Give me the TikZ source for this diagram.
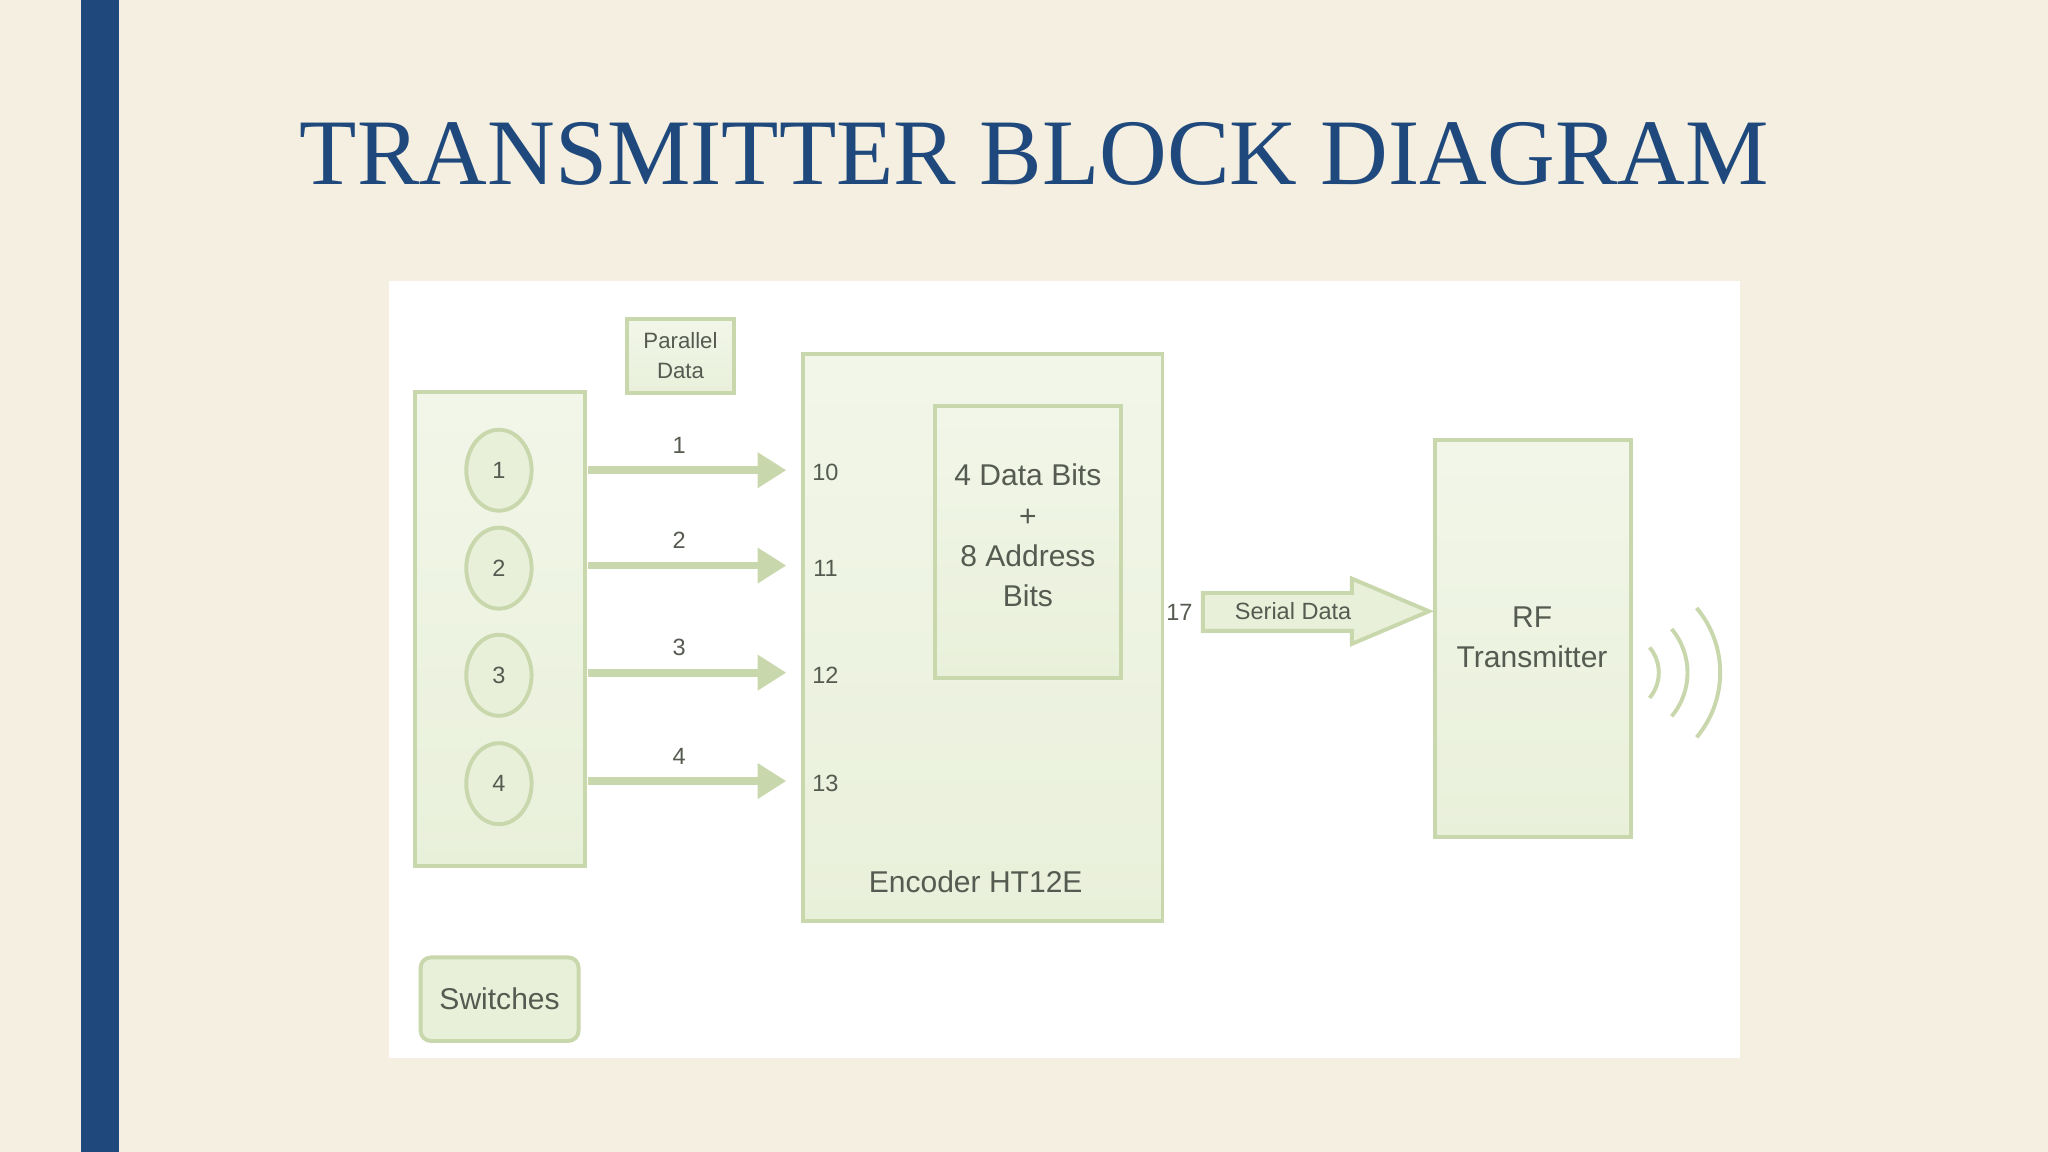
\documentclass[tikz,border=0pt]{standalone}
\usepackage{fontspec}
\setmainfont{Liberation Sans}
\newfontfamily\titlefont{Liberation Serif}
\usetikzlibrary{arrows.meta,shapes.geometric}
\definecolor{bg}{HTML}{F4EFE0}
\definecolor{bar}{HTML}{1F497D}
\definecolor{gb}{HTML}{C9D7AC}
\definecolor{gf}{HTML}{E9F0DA}
\definecolor{tx}{HTML}{555B50}
\begin{document}
\begin{tikzpicture}[x=1pt,y=-1pt,
  box/.style={draw=gb,line width=3pt,top color=gf!60!white,bottom color=gf,inner sep=0pt},
  lab/.style={text=tx,font=\fontsize{18}{20}\selectfont},
  big/.style={text=tx,font=\fontsize{23}{31}\selectfont,align=center},
  arr/.style={draw=gb,line width=6pt,-{Triangle[length=22pt,width=26pt]}}]
\fill[bg] (0,0) rectangle (1568,882);
\useasboundingbox (0,0) rectangle (1568,882);
\fill[bar] (62,0) rectangle (91,882);
\node[text=bar,font=\titlefont\fontsize{71.8}{76}\selectfont] (title) at (792,118) {TRANSMITTER BLOCK DIAGRAM};
\fill[white] (298,215) rectangle (1332,810);
% switches
\node[box,minimum width=130pt,minimum height=363pt] (sw) at (383,481.5) {};
\foreach \i/\y in {1/360,2/435,3/517,4/600}{
  \node[draw=gb,line width=3pt,fill=gf,ellipse,minimum width=50pt,minimum height=62pt,inner sep=0pt,lab] (c\i) at (382,\y) {\i};
}
\node[box,minimum width=82pt,minimum height=57pt,lab,align=center,font=\fontsize{17}{23}\selectfont] (pd) at (521,272.5) {Parallel\\Data};
% encoder
\node[box,minimum width=275pt,minimum height=434pt] (enc) at (752.5,488) {};
\node[box,minimum width=142pt,minimum height=208pt] (inner) at (787,415) {};
\node[big] (innert) at (787,410) {4 Data Bits\\+\\8 Address\\Bits};
\node[big] (enct) at (747,675) {Encoder HT12E};
\foreach \i/\y/\p in {1/360/10,2/433/11,3/515/12,4/598/13}{
  \coordinate (s\i) at (450,\y);
  \coordinate (e\i) at (602,\y);
  \draw[arr] (s\i) -- (e\i);
  \node[lab] (n\i) at (520,\y-19) {\i};
  \node[lab] (p\i) at (632,\y+2) {\p};
}
\node[lab] (p17) at (903,469) {17};
% serial data arrow
\draw[draw=gb,line width=3pt,fill=gf,line join=miter] (921,454) -- (1035,454) -- (1035,443) -- (1094,468) -- (1035,493) -- (1035,483) -- (921,483) -- cycle;
\node[lab] (sdt) at (990,468) {Serial Data};
% RF
\node[box,minimum width=150pt,minimum height=304pt] (rf) at (1174,489) {};
\node[big] (rft) at (1173,488) {RF\\Transmitter};
\foreach \r in {30,52,77}{
  \draw[gb,line width=3pt] (1240,515) ++(-40:\r) arc[start angle=-40,end angle=40,radius=\r];
}
\node[draw=gb,line width=3pt,fill=gf,rounded corners=8pt,minimum width=121pt,minimum height=64pt,big] (swt) at (382.5,765) {Switches};
\end{tikzpicture}
\end{document}
